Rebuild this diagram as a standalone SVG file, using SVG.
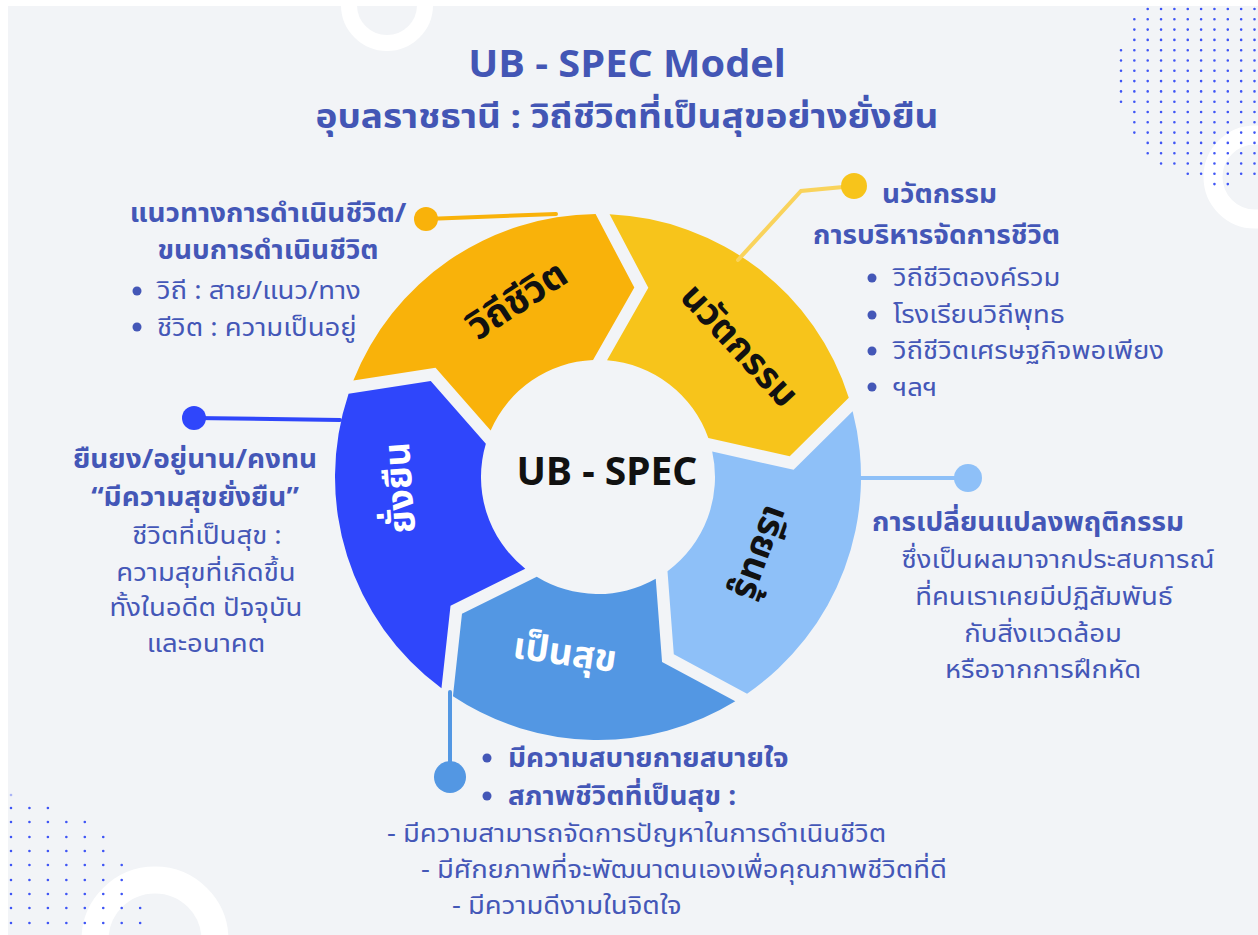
<svg xmlns="http://www.w3.org/2000/svg" width="1258" height="935" viewBox="0 0 1258 935">
<defs>
<style>
.th{font-family:"Noto Sans Thai","Noto Sans","DejaVu Sans",sans-serif;fill:#4457b7}
.b{font-weight:700;font-size:26px}
.r{font-weight:400;font-size:25px}
.m{text-anchor:middle}
.seg{font-family:"Noto Sans Thai","Noto Sans","DejaVu Sans",sans-serif;font-weight:700;text-anchor:middle}
.dt{stroke:#3f55f5;stroke-width:2.6;stroke-linecap:round;fill:none}
.bul{fill:#4457b7}
.ring{fill:none;stroke:#ffffff}
</style>
</defs>
<g id="background">
<rect x="0" y="0" width="1258" height="935" fill="#ffffff"/>
<rect x="8" y="6" width="1250" height="929" fill="#f2f4f7"/>
<circle class="ring" cx="387" cy="5" r="38" stroke-width="16"/>
<circle class="ring" cx="1255" cy="177" r="42" stroke-width="19"/>
<circle class="ring" cx="155" cy="940" r="60" stroke-width="27"/>
<g class="dt" stroke-dasharray="0 13.35">
<line x1="1147.7" y1="9" x2="1254.6" y2="9"/>
<line x1="1134.35" y1="19.3" x2="1254.6" y2="19.3"/>
<line x1="1134.35" y1="29.6" x2="1254.6" y2="29.6"/>
<line x1="1134.35" y1="39.9" x2="1254.6" y2="39.9"/>
<line x1="1121" y1="50.2" x2="1254.6" y2="50.2"/>
<line x1="1121" y1="60.5" x2="1254.6" y2="60.5"/>
<line x1="1121" y1="70.8" x2="1254.6" y2="70.8"/>
<line x1="1121" y1="81.1" x2="1254.6" y2="81.1"/>
<line x1="1121" y1="91.4" x2="1254.6" y2="91.4"/>
<line x1="1121" y1="101.7" x2="1254.6" y2="101.7"/>
<line x1="1134.35" y1="112" x2="1254.6" y2="112"/>
<line x1="1134.35" y1="122.3" x2="1254.6" y2="122.3"/>
<line x1="1134.35" y1="132.6" x2="1254.6" y2="132.6"/>
<line x1="1147.7" y1="142.9" x2="1254.6" y2="142.9"/>
<line x1="1147.7" y1="153.2" x2="1254.6" y2="153.2"/>
<line x1="1161.05" y1="163.5" x2="1254.6" y2="163.5"/>
<line x1="1187.75" y1="173.8" x2="1254.6" y2="173.8"/>
<line x1="1214.45" y1="184.1" x2="1227.9" y2="184.1"/>
</g>
<g class="dt" stroke-dasharray="0 18.45" stroke-width="3">
<line x1="11" y1="795" x2="11.1" y2="795" opacity="0.4"/>
<line x1="11" y1="808" x2="48" y2="808"/>
<line x1="11" y1="822" x2="84.9" y2="822"/>
<line x1="11" y1="837" x2="103.3" y2="837"/>
<line x1="11" y1="851" x2="103.3" y2="851"/>
<line x1="11" y1="865" x2="121.8" y2="865"/>
<line x1="11" y1="880" x2="121.8" y2="880"/>
<line x1="11" y1="894" x2="121.8" y2="894"/>
<line x1="11" y1="908" x2="140.2" y2="908"/>
<line x1="11" y1="923" x2="140.2" y2="923"/>
</g>
</g>
<g id="title">
<text transform="translate(627,77) scale(1.06,1)" class="th m" style="font-weight:700;font-size:37.5px;fill:#4356b5">UB - SPEC Model</text>
<text transform="translate(627,128) scale(1.12,1)" class="th m" style="font-weight:700;font-size:33px;fill:#4356b5">อุบลราชธานี : วิถีชีวิตที่เป็นสุขอย่างยั่งยืน</text>
</g>
<g id="node-withi">
<path d="M353.35,380.51 A263,263 0 0 1 595.59,214.02 L634.31,287.61 L593.04,360.10 A117,117 0 0 0 490.64,430.47 L435.53,367.85 Z" fill="#f9b20a"/>
<text class="seg" transform="translate(517,300) rotate(-33)" x="0" y="13" style="font-size:38px;fill:#111">วิถีชีวิต</text>
<text transform="translate(268,222) scale(1.075,1)" class="th b m">แนวทางการดำเนินชีวิต/</text>
<text transform="translate(268,259) scale(1.075,1)" class="th b m">ขนบการดำเนินชีวิต</text>
<circle class="bul" cx="137" cy="291" r="4.5"/>
<text transform="translate(157,299) scale(1.1,1)" class="th r">วิถี : สาย/แนว/ทาง</text>
<circle class="bul" cx="137" cy="327" r="4.5"/>
<text transform="translate(157,336) scale(1.1,1)" class="th r">ชีวิต : ความเป็นอยู่</text>
</g>
<g id="node-innovation">
<path d="M609.59,214.26 A263,263 0 0 1 848.79,397.81 L789.74,456.35 L708.35,438.08 A117,117 0 0 0 607.04,360.34 L648.31,287.85 Z" fill="#f7c41b"/>
<text class="seg" transform="translate(740,345) rotate(47)" x="0" y="13" style="font-size:37px;fill:#111">นวัตกรรม</text>
<text transform="translate(882,203) scale(1.075,1)" class="th b">นวัตกรรม</text>
<text transform="translate(813,244) scale(1.075,1)" class="th b">การบริหารจัดการชีวิต</text>
<circle class="bul" cx="872" cy="278" r="4.5"/>
<text transform="translate(893,286) scale(1.1,1)" class="th r">วิถีชีวิตองค์รวม</text>
<circle class="bul" cx="872" cy="315" r="4.5"/>
<text transform="translate(893,323) scale(1.1,1)" class="th r">โรงเรียนวิถีพุทธ</text>
<circle class="bul" cx="872" cy="351" r="4.5"/>
<text transform="translate(893,359) scale(1.1,1)" class="th r">วิถีชีวิตเศรษฐกิจพอเพียง</text>
<circle class="bul" cx="872" cy="387" r="4.5"/>
<text transform="translate(893,396) scale(1.1,1)" class="th r">ฯลฯ</text>
</g>
<g id="node-learning">
<path d="M852.65,411.26 A263,263 0 0 1 747.06,693.68 L673.81,654.32 L667.49,571.15 A117,117 0 0 0 712.20,451.54 L793.60,469.81 Z" fill="#8ec0f8"/>
<text class="seg" transform="translate(762,553) rotate(110)" x="0" y="13" style="font-size:37px;fill:#111">เรียนรู้</text>
<text transform="translate(1028,531) scale(1.075,1)" class="th b m">การเปลี่ยนแปลงพฤติกรรม</text>
<text transform="translate(1058,568) scale(1.1,1)" class="th r m">ซึ่งเป็นผลมาจากประสบการณ์</text>
<text transform="translate(1044,605) scale(1.1,1)" class="th r m">ที่คนเราเคยมีปฏิสัมพันธ์</text>
<text transform="translate(1043,642) scale(1.1,1)" class="th r m">กับสิ่งแวดล้อม</text>
<text transform="translate(1043,678) scale(1.1,1)" class="th r m">หรือจากการฝึกหัด</text>
</g>
<g id="node-happy">
<path d="M735.31,701.30 A263,263 0 0 1 452.94,696.37 L461.99,613.71 L536.74,576.69 A117,117 0 0 0 655.74,578.77 L662.06,661.95 Z" fill="#5397e3"/>
<text class="seg" transform="translate(565,652) rotate(8)" x="0" y="13" style="font-size:37px;fill:#ffffff">เป็นสุข</text>
<circle class="bul" cx="487" cy="758" r="4.5"/>
<text transform="translate(508,767) scale(1.075,1)" class="th b">มีความสบายกายสบายใจ</text>
<circle class="bul" cx="487" cy="796" r="4.5"/>
<text transform="translate(508,805) scale(1.075,1)" class="th b">สภาพชีวิตที่เป็นสุข :</text>
<text transform="translate(387,842) scale(1.1,1)" class="th r">- มีความสามารถจัดการปัญหาในการดำเนินชีวิต</text>
<text transform="translate(421,878) scale(1.1,1)" class="th r">- มีศักยภาพที่จะพัฒนาตนเองเพื่อคุณภาพชีวิตที่ดี</text>
<text transform="translate(452,914) scale(1.1,1)" class="th r">- มีความดีงามในจิตใจ</text>
</g>
<g id="node-sustain">
<path d="M441.47,688.34 A263,263 0 0 1 348.56,393.66 L430.75,381.01 L485.85,443.63 A117,117 0 0 0 525.27,568.66 L450.52,605.68 Z" fill="#2f46fb"/>
<text class="seg" transform="translate(399,488) rotate(-94)" x="0" y="13" style="font-size:37px;fill:#ffffff">ยั่งยืน</text>
<text transform="translate(195,468) scale(1.075,1)" class="th b m">ยืนยง/อยู่นาน/คงทน</text>
<text transform="translate(195,506) scale(1.075,1)" class="th b m">“มีความสุขยั่งยืน”</text>
<text transform="translate(207,544) scale(1.1,1)" class="th r m">ชีวิตที่เป็นสุข :</text>
<text transform="translate(206,581) scale(1.1,1)" class="th r m">ความสุขที่เกิดขึ้น</text>
<text transform="translate(206,616) scale(1.1,1)" class="th r m">ทั้งในอดีต ปัจจุบัน</text>
<text transform="translate(206,652) scale(1.1,1)" class="th r m">และอนาคต</text>
</g>
<g id="node-center">
<text x="607" y="485" style="font-family:'Noto Sans','DejaVu Sans',sans-serif;font-weight:700;font-size:39px;fill:#111;text-anchor:middle">UB - SPEC</text>
</g>
<g id="connectors" fill="none" stroke-width="4" stroke-linecap="round">
<path d="M426,219 L556,214" stroke="#f9b20a"/>
<circle cx="426" cy="219" r="12" fill="#f9b20a" stroke="none"/>
<path d="M854,186 L801,191 L738,260" stroke="#f9d35c"/>
<circle cx="854" cy="186" r="13" fill="#f7c41b" stroke="none"/>
<path d="M194,418 L340,420" stroke="#2f46fb"/>
<circle cx="194" cy="418" r="12" fill="#2f46fb" stroke="none"/>
<path d="M860,478 L968,478" stroke="#8ec0f8"/>
<circle cx="968" cy="478" r="14" fill="#8ec0f8" stroke="none"/>
<path d="M450,692 L450,776" stroke="#5397e3"/>
<circle cx="450" cy="777" r="16" fill="#5397e3" stroke="none"/>
</g>
</svg>
